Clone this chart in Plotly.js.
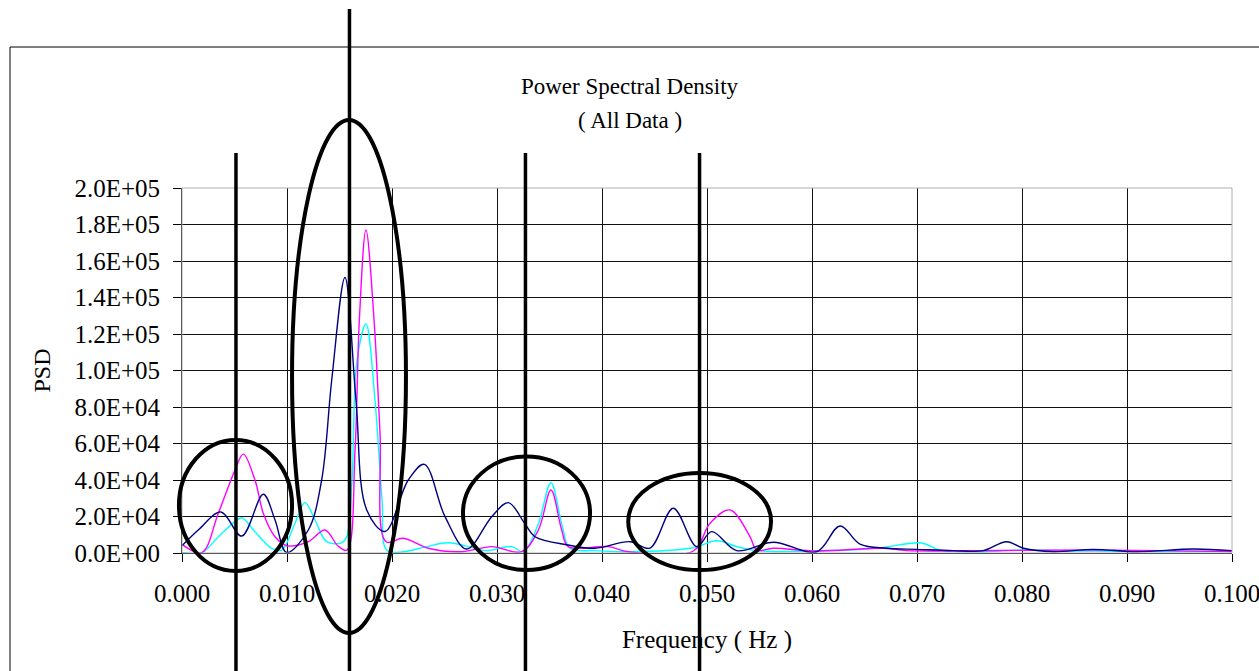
<!DOCTYPE html>
<html>
<head>
<meta charset="utf-8">
<script src="https://cdn.plot.ly/plotly-3.0.1.min.js"></script>
<style>html,body{margin:0;padding:0;background:#fff;}#chart{width:1259px;height:671px;}</style>
</head>
<body>
<div id="chart"></div>
<script>
// Navy series (frequency Hz, PSD)
var navyFreq = [0, 0.00155, 0.00371, 0.00569, 0.00774, 0.00886, 0.00997, 0.01203, 0.01330, 0.01426, 0.01552, 0.01657, 0.01759, 0.01933, 0.02155, 0.02308, 0.02505, 0.02711, 0.02950, 0.03108, 0.03267, 0.03362, 0.03676, 0.03933, 0.04267, 0.04457, 0.04679, 0.04902, 0.05045, 0.05283, 0.05631, 0.06045, 0.06267, 0.06457, 0.06711, 0.06997, 0.07343, 0.07631, 0.07854, 0.08013, 0.08298, 0.08679, 0.09092, 0.09631, 0.1];
var navyPSD  = [4000, 12600, 22500, 9300, 32200, 18100, 300, 12600, 40000, 94800, 151000, 83800, 23600, 11800, 40000, 48600, 19900, 2200, 19900, 27600, 15900, 8900, 4400, 2600, 6200, 2700, 24500, 3500, 11700, 1300, 5900, 700, 14800, 4900, 2600, 2000, 1300, 1300, 6200, 2600, 700, 2000, 700, 2200, 1300];

// Magenta series
var magentaFreq = [0, 0.00188, 0.00346, 0.00505, 0.00584, 0.00695, 0.00774, 0.00886, 0.00997, 0.01203, 0.01362, 0.01486, 0.01571, 0.01648, 0.01689, 0.01752, 0.01829, 0.01886, 0.01943, 0.02108, 0.02346, 0.02664, 0.02950, 0.03235, 0.03394, 0.03514, 0.03616, 0.03679, 0.04060, 0.04251, 0.04870, 0.05029, 0.05219, 0.05410, 0.05473, 0.05631, 0.06045, 0.06676, 0.06902, 0.0779, 0.08867, 0.1];
var magentaPSD  = [4700, 200, 21800, 45500, 54200, 40000, 21800, 8900, 4000, 6200, 12600, 3800, 1600, 56400, 127700, 177000, 127700, 65800, 6200, 8100, 2600, 700, 3500, 700, 12600, 34500, 12600, 3500, 3500, 700, 1100, 16300, 23600, 8900, 1600, 2600, 1100, 2600, 1300, 1400, 1600, 800];

// Cyan series
var cyanFreq = [0, 0.00188, 0.00346, 0.00505, 0.00569, 0.00695, 0.00854, 0.00950, 0.01076, 0.01171, 0.01267, 0.01378, 0.01521, 0.01569, 0.01619, 0.01667, 0.01752, 0.01838, 0.01905, 0.01950, 0.02108, 0.02330, 0.02536, 0.02790, 0.02902, 0.03140, 0.03250, 0.03390, 0.03514, 0.03619, 0.03695, 0.03933, 0.04251, 0.04870, 0.05092, 0.05283, 0.05473, 0.06045, 0.06616, 0.07045, 0.07219, 0.07600, 0.07949, 0.08552, 0.09219, 0.1];
var cyanPSD  = [300, 200, 8900, 17200, 19300, 11700, 2600, 1600, 16300, 27600, 18100, 6200, 5600, 8900, 40000, 105700, 125500, 83800, 29000, 1600, 700, 3500, 5600, 2600, 1300, 3500, 700, 15300, 38500, 15300, 2600, 1300, 700, 2900, 6700, 3500, 1300, 1100, 2600, 5500, 1600, 700, 1600, 1100, 800, 1100];

// Tick labels
var yTickVals = [0, 20000, 40000, 60000, 80000, 100000, 120000, 140000, 160000, 180000, 200000];
var yTickText = ['0.0E+00', '2.0E+04', '4.0E+04', '6.0E+04', '8.0E+04', '1.0E+05', '1.2E+05', '1.4E+05', '1.6E+05', '1.8E+05', '2.0E+05'];
var xTickVals = [0, 0.01, 0.02, 0.03, 0.04, 0.05, 0.06, 0.07, 0.08, 0.09, 0.1];
var xTickText = ['0.000', '0.010', '0.020', '0.030', '0.040', '0.050', '0.060', '0.070', '0.080', '0.090', '0.100'];

var serif = 'Liberation Serif, Times New Roman, serif';

function series(x, y, color) {
  return {x: x, y: y, type: 'scatter', mode: 'lines',
          line: {color: color, width: 1.4, shape: 'spline', smoothing: 1},
          hoverinfo: 'x+y', showlegend: false, cliponaxis: true};
}

var traces = [
  series(cyanFreq, cyanPSD, '#00FFFF'),
  series(magentaFreq, magentaPSD, '#FF00FF'),
  series(navyFreq, navyPSD, '#000080')
];

var blk = {color: '#000', width: 4};
var shapes = [
  // outer chart frame
  {type: 'rect', xref: 'paper', yref: 'paper', x0: -0.1638, x1: 1.05, y0: -0.40, y1: 1.3863, line: {color: '#000', width: 1}, layer: 'below'},
  // plot area border (top/right in grey)
  {type: 'rect', xref: 'paper', yref: 'paper', x0: 0, x1: 1, y0: 0, y1: 1, line: {color: '#b0b0b0', width: 1}, layer: 'above'},
  // hand-drawn annotation lines
  {type: 'line', xref: 'paper', yref: 'paper', x0: 0.0514, x1: 0.0514, y0: -0.40, y1: 1.0959, line: {color: '#000', width: 3.5}},
  {type: 'line', xref: 'paper', yref: 'paper', x0: 0.1595, x1: 0.1595, y0: -0.40, y1: 1.4904, line: {color: '#000', width: 3.5}},
  {type: 'line', xref: 'paper', yref: 'paper', x0: 0.3271, x1: 0.3271, y0: -0.40, y1: 1.0959, line: {color: '#000', width: 3.5}},
  {type: 'line', xref: 'paper', yref: 'paper', x0: 0.4929, x1: 0.4929, y0: -0.40, y1: 1.0959, line: {color: '#000', width: 3.5}},
  // ellipses
  {type: 'circle', xref: 'paper', yref: 'paper', x0: -0.0029, x1: 0.1048, y0: -0.0493, y1: 0.3096, line: blk},
  {type: 'circle', xref: 'paper', yref: 'paper', x0: 0.1048, x1: 0.2133, y0: -0.2192, y1: 1.1863, line: blk},
  {type: 'circle', xref: 'paper', yref: 'paper', x0: 0.2676, x1: 0.3886, y0: -0.0466, y1: 0.2644, line: blk},
  {type: 'circle', xref: 'paper', yref: 'paper', x0: 0.4250, x1: 0.5610, y0: -0.0466, y1: 0.2192, line: blk}
];

var layout = {
  width: 1259, height: 671,
  margin: {l: 182, r: 27, t: 188, b: 118, pad: 0},
  paper_bgcolor: '#fff', plot_bgcolor: '#fff',
  font: {family: serif, color: '#000', size: 25},
  title: {text: 'Power Spectral Density', x: 0.5, xref: 'container', xanchor: 'center',
          y: 1 - 86 / 671, yref: 'container', yanchor: 'middle',
          font: {family: serif, size: 23, color: '#000'}},
  annotations: [
    {text: '( All Data )', xref: 'paper', yref: 'paper', x: 0.4267, y: 1.1836,
     xanchor: 'center', yanchor: 'middle', showarrow: false,
     font: {family: serif, size: 23, color: '#000'}}
  ],
  xaxis: {
    range: [0, 0.1], tickvals: xTickVals, ticktext: xTickText,
    showgrid: true, gridcolor: '#111', gridwidth: 1,
    showline: true, linecolor: '#000', linewidth: 1, zeroline: false,
    ticks: 'outside', ticklen: 8, tickcolor: '#000', tickwidth: 1,
    ticklabelstandoff: 10, ticklabeloverflow: 'allow',
    tickfont: {family: serif, size: 25, color: '#000'},
    title: {text: 'Frequency ( Hz )', standoff: 24, font: {family: serif, size: 25, color: '#000'}},
    automargin: false, fixedrange: true
  },
  yaxis: {
    range: [0, 200000], tickvals: yTickVals, ticktext: yTickText,
    showgrid: true, gridcolor: '#111', gridwidth: 1,
    showline: true, linecolor: '#000', linewidth: 1, zeroline: false,
    ticks: 'outside', ticklen: 8, tickcolor: '#000', tickwidth: 1,
    ticklabelstandoff: 8,
    tickfont: {family: serif, size: 25, color: '#000'},
    title: {text: 'PSD', standoff: 16, font: {family: serif, size: 24, color: '#000'}},
    automargin: false, fixedrange: true
  },
  shapes: shapes,
  showlegend: false
};

Plotly.newPlot('chart', traces, layout, {displayModeBar: false, staticPlot: true});
</script>
</body>
</html>
